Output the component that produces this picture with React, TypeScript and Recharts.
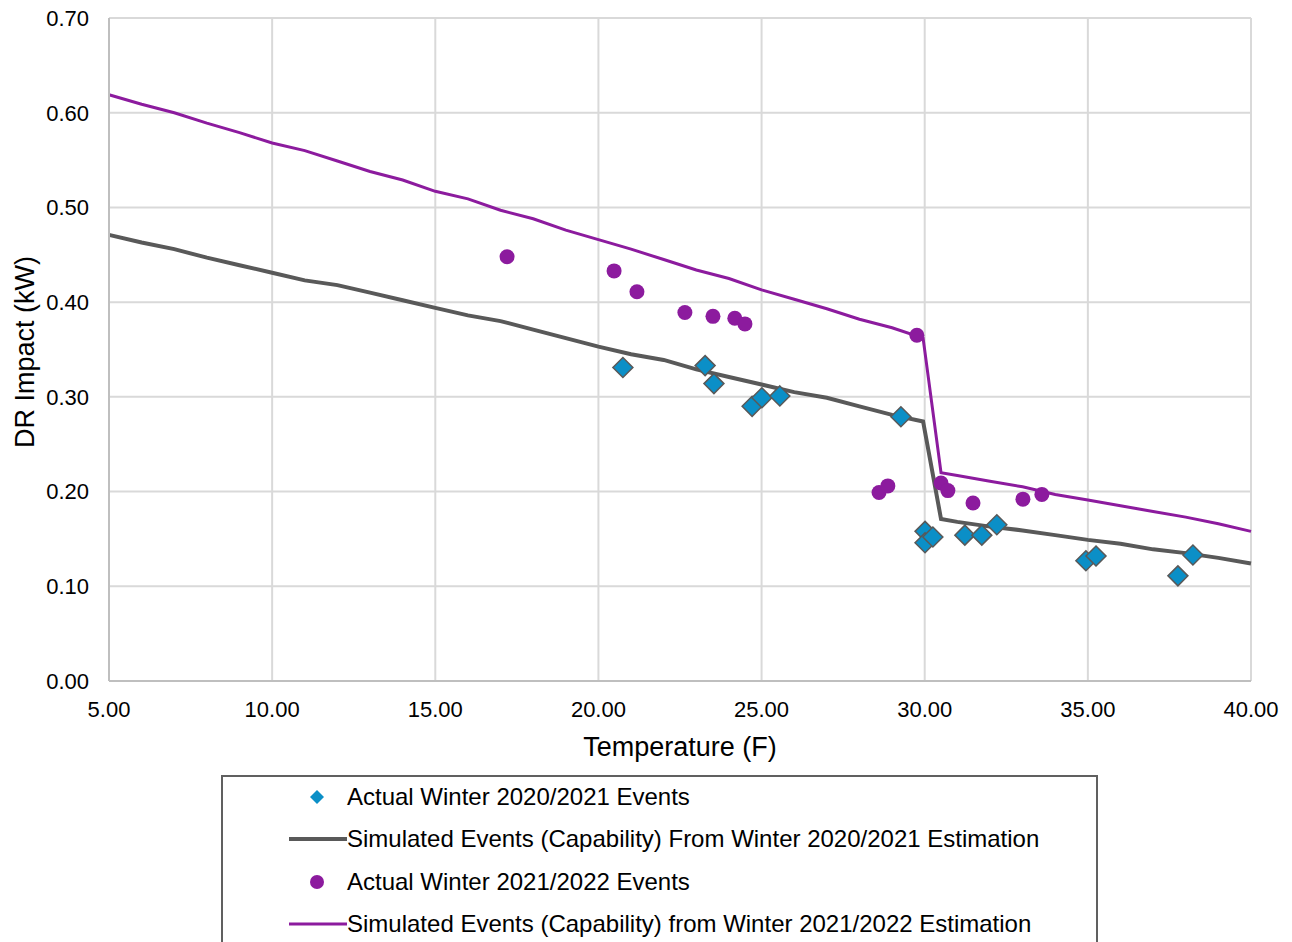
import React from 'react';
import {
  ComposedChart, Line, Scatter, XAxis, YAxis, CartesianGrid,
} from 'recharts';

// temperatures (F) and DR impacts (kW)
const actual2021Temp = [20.75, 23.27, 23.54, 24.71, 25.01, 25.56, 29.27, 30.01, 30.01, 30.25, 31.23, 31.75, 32.21, 34.94, 35.25, 37.76, 38.22];
const actual2021Kw = [0.331, 0.333, 0.314, 0.290, 0.299, 0.301, 0.279, 0.158, 0.146, 0.152, 0.154, 0.154, 0.165, 0.127, 0.132, 0.111, 0.133];

const actual2122Temp = [17.2, 20.48, 21.18, 22.65, 23.51, 24.18, 24.49, 29.76, 28.6, 28.87, 30.5, 30.71, 31.48, 33.01, 33.59];
const actual2122Kw = [0.448, 0.433, 0.411, 0.389, 0.385, 0.383, 0.377, 0.365, 0.199, 0.206, 0.209, 0.201, 0.188, 0.192, 0.197];

const simTemp = [5, 6, 7, 8, 9, 10, 11, 12, 13, 14, 15, 16, 17, 18, 19, 20, 21, 22, 23, 24, 25, 26, 27, 28, 29, 29.95, 30.5, 31, 32, 33, 34, 35, 36, 37, 38, 39, 40];
const sim2021Kw = [0.471, 0.463, 0.456, 0.447, 0.439, 0.431, 0.423, 0.418, 0.410, 0.402, 0.394, 0.386, 0.380, 0.371, 0.362, 0.353, 0.345, 0.339, 0.329, 0.321, 0.313, 0.305, 0.299, 0.290, 0.281, 0.274, 0.171, 0.168, 0.163, 0.159, 0.154, 0.149, 0.145, 0.139, 0.135, 0.130, 0.124];
const sim2122Kw = [0.619, 0.609, 0.600, 0.589, 0.579, 0.568, 0.560, 0.549, 0.538, 0.529, 0.517, 0.509, 0.497, 0.488, 0.476, 0.466, 0.456, 0.445, 0.434, 0.425, 0.413, 0.403, 0.393, 0.382, 0.373, 0.362, 0.220, 0.217, 0.211, 0.205, 0.197, 0.191, 0.185, 0.179, 0.173, 0.166, 0.158];

const xTicks = [5, 10, 15, 20, 25, 30, 35, 40];
const yTicks = [0, 0.1, 0.2, 0.3, 0.4, 0.5, 0.6, 0.7];

const legendLabels = [
  'Actual Winter 2020/2021 Events',
  'Simulated Events (Capability) From Winter 2020/2021 Estimation',
  'Actual Winter 2021/2022 Events',
  'Simulated Events (Capability) from Winter 2021/2022 Estimation',
];

const BLUE = '#0b8fc7';
const GRAY = '#595959';
const PURPLE = '#8c1b9e';
const FONT = '"Liberation Sans", Arial, sans-serif';

const zip = (xs: number[], ys: number[]) => xs.map((x, i) => ({ x, y: ys[i] }));

const Diamond = ({ cx, cy }: { cx?: number; cy?: number }) => {
  if (cx == null || cy == null) return null;
  const r = 10;
  return (
    <polygon points={`${cx},${cy - r} ${cx + r},${cy} ${cx},${cy + r} ${cx - r},${cy}`}
      fill={BLUE} stroke={GRAY} strokeWidth={1.5} />
  );
};

const Dot = ({ cx, cy }: { cx?: number; cy?: number }) => {
  if (cx == null || cy == null) return null;
  return <circle cx={cx} cy={cy} r={7.5} fill={PURPLE} />;
};

function LegendBox() {
  const rowY = [20, 62, 105, 147];
  return (
    <div style={{
      position: 'absolute', left: 221, top: 775, width: 877, height: 180,
      border: '2px solid #606060', boxSizing: 'border-box', background: '#fff',
    }}>
      <svg width={140} height={170} style={{ position: 'absolute', left: 0, top: 0 }}>
        <polygon points={`94,${rowY[0] - 7} 101,${rowY[0]} 94,${rowY[0] + 7} 87,${rowY[0]}`} fill={BLUE} />
        <line x1={66} x2={124} y1={rowY[1]} y2={rowY[1]} stroke={GRAY} strokeWidth={4} />
        <circle cx={94} cy={rowY[2]} r={7} fill={PURPLE} />
        <line x1={66} x2={124} y1={rowY[3]} y2={rowY[3]} stroke={PURPLE} strokeWidth={3} />
      </svg>
      {legendLabels.map((t, i) => (
        <div key={i} style={{
          position: 'absolute', left: 124, top: rowY[i] - 14, fontFamily: FONT,
          fontSize: 24, lineHeight: '28px', color: '#000', whiteSpace: 'nowrap',
        }}>{t}</div>
      ))}
    </div>
  );
}

export default function App() {
  return (
    <div style={{ position: 'absolute', left: 0, top: 0, width: 1292, height: 942, overflow: 'hidden', background: '#fff' }}>
      <ComposedChart width={1292} height={942}
        margin={{ top: 18, right: 41, left: 0, bottom: 181 }}>
        <CartesianGrid stroke="#d9d9d9" strokeWidth={2} />
        <XAxis dataKey="x" type="number" domain={[5, 40]} ticks={xTicks} interval={0}
          tickFormatter={(v: number) => v.toFixed(2)}
          tick={{ fontSize: 22, fill: '#000', fontFamily: FONT }}
          tickLine={false} tickSize={0} tickMargin={20} height={80}
          axisLine={{ stroke: '#bfbfbf', strokeWidth: 2 }}
          label={{
            content: () => (
              <text x={680} y={756} textAnchor="middle" fontSize={27} fontFamily={FONT} fill="#000">
                Temperature (F)
              </text>
            ),
          }} />
        <YAxis type="number" domain={[0, 0.7]} ticks={yTicks} interval={0} width={109}
          tickFormatter={(v: number) => v.toFixed(2)}
          tick={{ fontSize: 22, fill: '#000', fontFamily: FONT }}
          tickLine={false} tickSize={0} tickMargin={20}
          axisLine={{ stroke: '#bfbfbf', strokeWidth: 2 }}
          label={{
            content: () => (
              <text x={25} y={352} textAnchor="middle" dominantBaseline="central"
                transform="rotate(-90 25 352)" fontSize={27} fontFamily={FONT} fill="#000">
                DR Impact (kW)
              </text>
            ),
          }} />
        <Line data={zip(simTemp, sim2021Kw)} dataKey="y" type="linear" stroke={GRAY} strokeWidth={4}
          dot={false} activeDot={false} isAnimationActive={false} />
        <Line data={zip(simTemp, sim2122Kw)} dataKey="y" type="linear" stroke={PURPLE} strokeWidth={3}
          dot={false} activeDot={false} isAnimationActive={false} />
        <Scatter data={zip(actual2021Temp, actual2021Kw)} dataKey="y" shape={<Diamond />} isAnimationActive={false} />
        <Scatter data={zip(actual2122Temp, actual2122Kw)} dataKey="y" shape={<Dot />} isAnimationActive={false} />
      </ComposedChart>
      <LegendBox />
    </div>
  );
}
